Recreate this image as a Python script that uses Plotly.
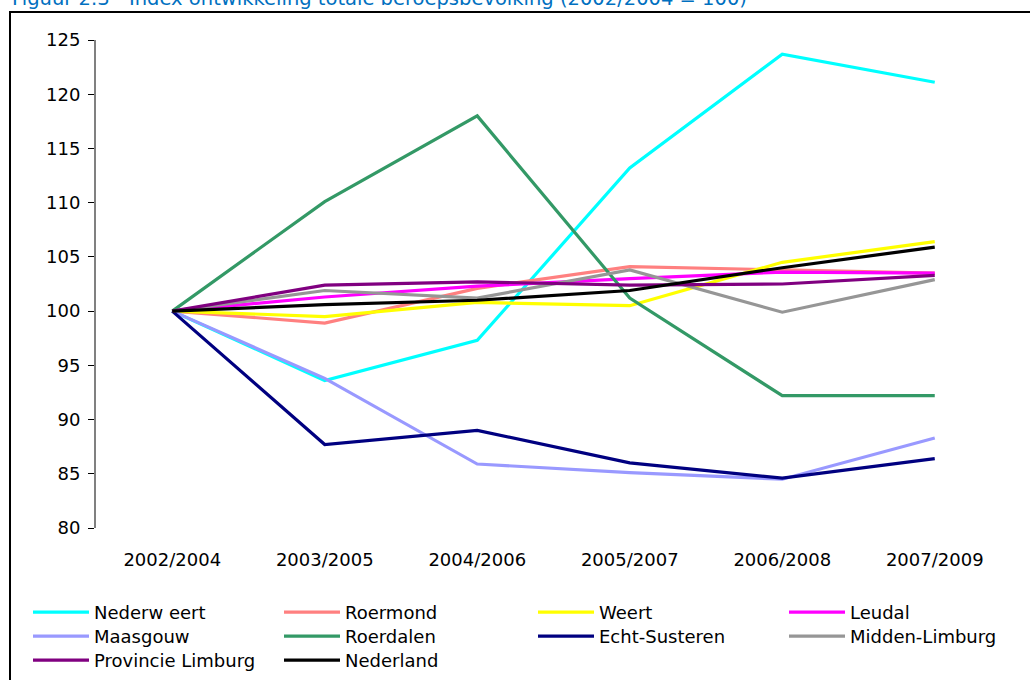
import plotly.graph_objects as go

categories = ["2002/2004", "2003/2005", "2004/2006", "2005/2007", "2006/2008", "2007/2009"]

nederweert = [100, 93.6, 97.3, 113.2, 123.7, 121.1]
roermond = [100, 98.9, 102.1, 104.1, 103.8, 103.5]
weert = [100, 99.5, 100.8, 100.5, 104.5, 106.4]
leudal = [100, 101.3, 102.3, 103.0, 103.6, 103.5]
maasgouw = [100, 93.8, 85.9, 85.1, 84.5, 88.3]
roerdalen = [100, 110.1, 118.0, 101.2, 92.2, 92.2]
echt_susteren = [100, 87.7, 89.0, 86.0, 84.6, 86.4]
midden_limburg = [100, 101.9, 101.2, 103.8, 99.9, 102.9]
provincie_limburg = [100, 102.4, 102.7, 102.4, 102.5, 103.3]
nederland = [100, 100.6, 101.0, 101.9, 104.0, 105.9]

series_names = ["Nederw eert", "Roermond", "Weert", "Leudal", "Maasgouw", "Roerdalen",
                "Echt-Susteren", "Midden-Limburg", "Provincie Limburg", "Nederland"]
series_values = [nederweert, roermond, weert, leudal, maasgouw, roerdalen,
                 echt_susteren, midden_limburg, provincie_limburg, nederland]
series_colors = ["#00FFFF", "#FF8080", "#FFFF00", "#FF00FF", "#9999FF", "#339966",
                 "#000080", "#969696", "#800080", "#000000"]

title_text = "Figuur 2.3 - Index ontwikkeling totale beroepsbevolking (2002/2004 = 100)"

W, H = 1030, 680
L, R, T, B = 96, 19, 40, 152
pw, ph = W - L - R, H - T - B

# legend: 4 columns x 3 rows, built as one horizontal legend per half-row
half_legends = {}
legend_pos = {}
lid_counter = 0
for i in range(len(series_names)):
    row, col = divmod(i, 4)
    half = col // 2
    key = (row, half)
    if key not in half_legends:
        lid_counter += 1
        lid = "legend" if lid_counter == 1 else f"legend{lid_counter}"
        half_legends[key] = lid
        legend_pos[lid] = (28 if half == 0 else 533, 594 + 24 * row)

fig = go.Figure()
for i, (name, vals, col) in enumerate(zip(series_names, series_values, series_colors)):
    row, c = divmod(i, 4)
    fig.add_trace(go.Scatter(x=categories, y=vals, name=name, mode="lines",
                             line=dict(color=col, width=3.2),
                             legend=half_legends[(row, c // 2)]))

font = "DejaVu Sans, Arial, sans-serif"

legend_common = dict(
    orientation="h", xref="container", yref="container",
    xanchor="left", yanchor="top", itemwidth=56,
    entrywidth=180, entrywidthmode="pixels",
    font=dict(family=font, size=18, color="black"),
    tracegroupgap=0, bgcolor="rgba(0,0,0,0)",
)

fig.update_layout(
    width=W, height=H,
    margin=dict(l=L, r=R, t=T, b=B, pad=0),
    paper_bgcolor="white", plot_bgcolor="white",
    font=dict(family=font, size=18, color="black"),
    showlegend=True,
    xaxis=dict(
        type="category", range=[-0.5, 5.5], showline=False, showgrid=False,
        zeroline=False, ticks="", ticklabelstandoff=19,
        tickfont=dict(family=font, size=18, color="black"),
    ),
    xaxis2=dict(
        overlaying="x", anchor="free", position=(100 - 80) / 45, range=[0, 6],
        showline=True, linecolor="black", linewidth=1, showgrid=False,
        zeroline=False, ticks="outside", ticklen=5, tickcolor="#808080",
        tickvals=[0, 1, 2, 3, 4, 5, 6], showticklabels=False, side="bottom",
    ),
    yaxis=dict(
        range=[80, 125], dtick=5, showgrid=False, zeroline=False,
        showline=True, linecolor="#808080", linewidth=2,
        ticks="outside", ticklen=6, tickcolor="black", tickwidth=1,
        ticklabelstandoff=4,
        tickfont=dict(family=font, size=18, color="black"),
    ),
)
for lid, (px, py) in legend_pos.items():
    fig.update_layout({lid: dict(legend_common, x=px / W, y=1 - py / H)})

# outer frame of the figure (partly outside the visible window)
fig.add_shape(type="rect", xref="paper", yref="paper",
              x0=(10 - L) / pw, x1=1.2, y0=-0.5, y1=(H - B - 12) / ph,
              line=dict(color="black", width=2), fillcolor="rgba(0,0,0,0)", layer="below")

fig.add_annotation(text=title_text, xref="paper", yref="paper",
                   x=(10 - L) / pw, y=(H - B - 12) / ph, xanchor="left", yanchor="bottom",
                   showarrow=False,
                   font=dict(family=font, size=19.5, color="#0070C0"))

fig.write_html("out.html")
